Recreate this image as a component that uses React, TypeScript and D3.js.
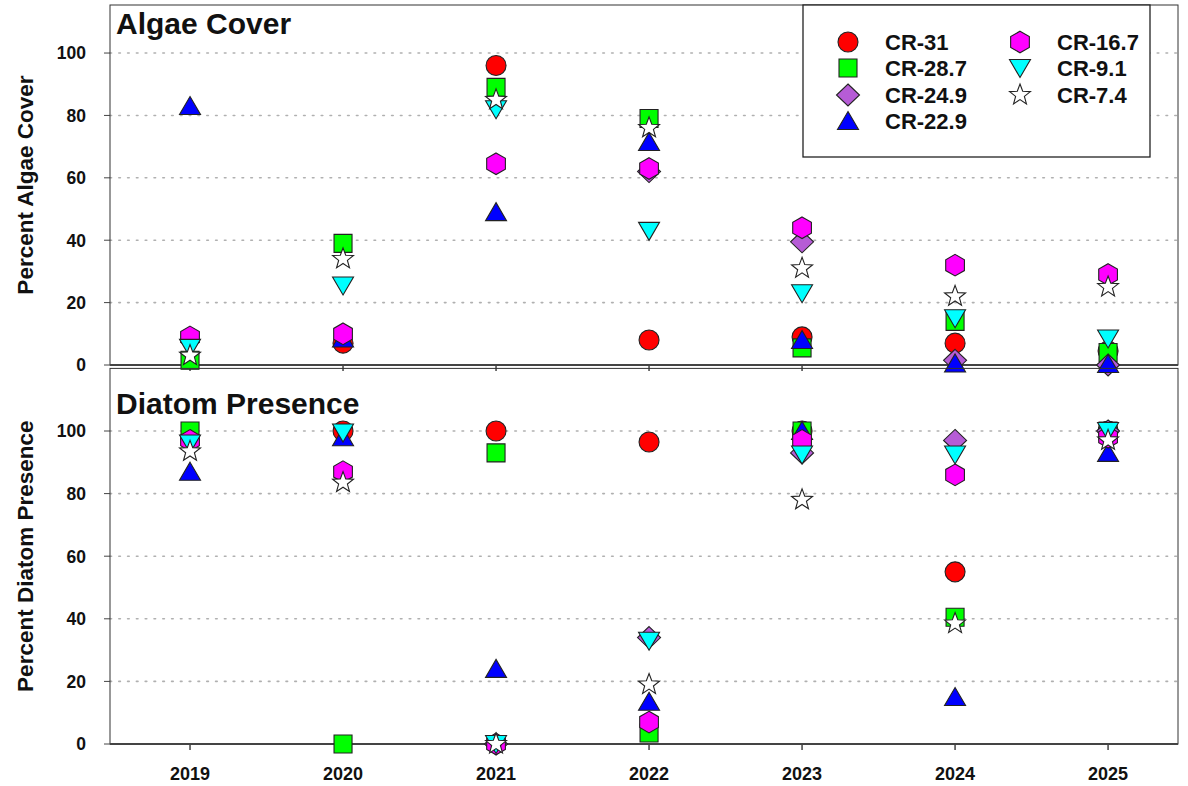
import React from "react";
import * as d3 from "d3";

const years = [2019, 2020, 2021, 2022, 2023, 2024, 2025];
const yTicks = [0, 20, 40, 60, 80, 100];
const siteNames = ["CR-31", "CR-28.7", "CR-24.9", "CR-22.9", "CR-16.7", "CR-9.1", "CR-7.4"];
const siteColors = ["#ff0000", "#00ff00", "#b65cd6", "#0000ff", "#ff00ff", "#00ffff", "#ffffff"];
const siteShapes = ["circle", "square", "diamond", "triangle", "hexagon", "triangleDown", "star"];

type V = number | null;
const algaeCR31: V[] = [null, 7, 96, 8, 9, 7, 4.5];
const algaeCR287: V[] = [1.5, 39, 89, 79, 5.5, 14, 4];
const algaeCR249: V[] = [null, null, null, 62, 39.5, 1.5, 0];
const algaeCR229: V[] = [83, 8.5, 49, 71.5, 8, 0.5, 0.3];
const algaeCR167: V[] = [9, 10, 64.5, 63, 44, 32, 29];
const algaeCR91: V[] = [5.5, 25.5, 82, 43, 23, 15, 8.5];
const algaeCR74: V[] = [3, 34, 85, 76, 31, 22, 25];

const diatomCR31: V[] = [null, 100, 100, 96.5, 100, 55, 100];
const diatomCR287: V[] = [100, 0, 93, 3.5, 100, 40.5, 100];
const diatomCR249: V[] = [null, null, 0, 34, 93, 97, 100];
const diatomCR229: V[] = [87, 98, 24, 13.5, 100, 15, 93];
const diatomCR167: V[] = [97, 87, 0, 7, 97, 86, 98];
const diatomCR91: V[] = [96, 99.5, 0, 33, 92.5, 92.5, 100];
const diatomCR74: V[] = [93.5, 83.5, 0, 19, 78, 38.5, 97];

const algaeSeries = [algaeCR31, algaeCR287, algaeCR249, algaeCR229, algaeCR167, algaeCR91, algaeCR74];
const diatomSeries = [diatomCR31, diatomCR287, diatomCR249, diatomCR229, diatomCR167, diatomCR91, diatomCR74];

const FONT = "'Liberation Sans', Arial, Helvetica, sans-serif";

function shapePath(shape: string): string {
  const p = d3.path();
  switch (shape) {
    case "circle":
      p.arc(0, 0, 10, 0, Math.PI * 2);
      break;
    case "square":
      p.rect(-9, -9, 18, 18);
      break;
    case "diamond":
      p.moveTo(0, -11); p.lineTo(11.5, 0); p.lineTo(0, 11); p.lineTo(-11.5, 0); p.closePath();
      break;
    case "triangle":
      p.moveTo(0, -9.5); p.lineTo(10.5, 8.5); p.lineTo(-10.5, 8.5); p.closePath();
      break;
    case "triangleDown":
      p.moveTo(0, 9.5); p.lineTo(10.5, -8.5); p.lineTo(-10.5, -8.5); p.closePath();
      break;
    case "hexagon":
      for (let i = 0; i < 6; i++) {
        const a = -Math.PI / 2 + (i * Math.PI) / 3;
        const x = 10.8 * Math.cos(a), y = 10.8 * Math.sin(a);
        if (i === 0) p.moveTo(x, y); else p.lineTo(x, y);
      }
      p.closePath();
      break;
    case "star":
      for (let i = 0; i < 10; i++) {
        const r = i % 2 === 0 ? 11 : 4.6;
        const a = -Math.PI / 2 + (i * Math.PI) / 5;
        const x = r * Math.cos(a), y = r * Math.sin(a);
        if (i === 0) p.moveTo(x, y); else p.lineTo(x, y);
      }
      p.closePath();
      break;
  }
  return p.toString();
}

const L = 110, R = 1178;
const x = d3.scaleLinear().domain([2018.477, 2025.457]).range([L, R]);

function Panel({ yScale, series, title, ytitle, titleY }: any) {
  const [y0, y1] = yScale.range();
  const top = y1;
  const bottom = y0;
  return (
    <g>
      {yTicks.filter((t) => t > 0).map((t) => (
        <line key={t} x1={L} x2={R} y1={yScale(t)} y2={yScale(t)} stroke="#b0b0b0" strokeWidth={1.6} strokeDasharray="1.6,7.2" strokeLinecap="round" />
      ))}
      <rect x={L} y={top} width={R - L} height={bottom - top} fill="none" stroke="#333" strokeWidth={1} />
      <line x1={L} x2={R} y1={bottom} y2={bottom} stroke="#444" strokeWidth={2} />
      {years.map((yr) => (
        <line key={yr} x1={x(yr)} x2={x(yr)} y1={bottom} y2={bottom + 6} stroke="#444" strokeWidth={1.5} />
      ))}
      {yTicks.map((t) => (
        <g key={t}>
          <line x1={L - 6} x2={L} y1={yScale(t)} y2={yScale(t)} stroke="#444" strokeWidth={1} />
          <text x={86} y={yScale(t)} dy="0.36em" textAnchor="end" fontFamily={FONT} fontWeight="bold" fontSize={17.5} fill="#111">{t}</text>
        </g>
      ))}
      <text x={116} y={titleY} fontFamily={FONT} fontWeight="bold" fontSize={30} fill="#111">{title}</text>
      <text transform={`translate(33,${(top + bottom) / 2}) rotate(-90)`} textAnchor="middle" fontFamily={FONT} fontWeight="bold" fontSize={22.5} fill="#111">{ytitle}</text>
      {series.map((vals: V[], si: number) => (
        <g key={si}>
          {vals.map((v, i) =>
            v == null ? null : (
              <path key={i} d={shapePath(siteShapes[si])} transform={`translate(${x(years[i])},${yScale(v)})`} fill={siteColors[si]} stroke="#222" strokeWidth={1.1} strokeLinejoin="miter" />
            )
          )}
        </g>
      ))}
    </g>
  );
}

export default function App() {
  const yTop = d3.scaleLinear().domain([0, 115.4]).range([365, 5]);
  const yBot = d3.scaleLinear().domain([0, 120]).range([744, 368.4]);
  const legendPos = [
    [848, 42], [848, 68], [848, 95], [848, 121], [1020, 42], [1020, 68], [1020, 95],
  ];
  return (
    <svg width={1188} height={786} style={{ position: "absolute", left: 0, top: 0, background: "#fff" }}>
      <rect x={0} y={0} width={1188} height={786} fill="#fff" />
      <Panel yScale={yTop} series={algaeSeries} title="Algae Cover" ytitle="Percent Algae Cover" titleY={34} />
      <Panel yScale={yBot} series={diatomSeries} title="Diatom Presence" ytitle="Percent Diatom Presence" titleY={414} />
      {years.map((yr) => (
        <text key={yr} x={x(yr)} y={780} textAnchor="middle" fontFamily={FONT} fontWeight="bold" fontSize={18} fill="#111">{yr}</text>
      ))}
      <rect x={803} y={5} width={347} height={152} fill="#fff" stroke="#222" strokeWidth={1.3} />
      {siteNames.map((n, i) => (
        <g key={n}>
          <path d={shapePath(siteShapes[i])} transform={`translate(${legendPos[i][0]},${legendPos[i][1]})`} fill={siteColors[i]} stroke="#222" strokeWidth={1.1} />
          <text x={legendPos[i][0] + 37} y={legendPos[i][1]} dy="0.36em" fontFamily={FONT} fontWeight="bold" fontSize={22} fill="#111">{n}</text>
        </g>
      ))}
    </svg>
  );
}
